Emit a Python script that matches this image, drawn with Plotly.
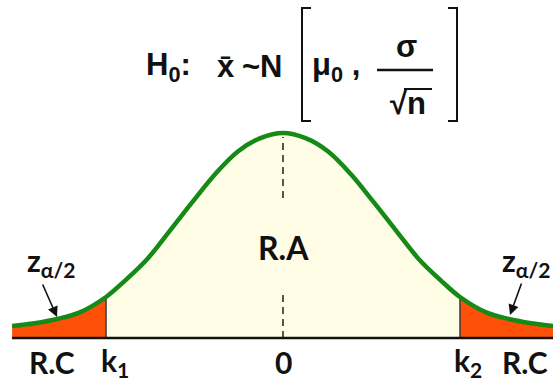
import plotly.graph_objects as go

# ---- data ----
z_half = [-3.0, -2.75, -2.5, -2.25, -1.96, -1.75, -1.5, -1.25, -1.0, -0.75, -0.5, -0.25, 0.0]
h_half = [0.058, 0.072, 0.093, 0.125, 0.20, 0.28, 0.387, 0.525, 0.665, 0.80, 0.91, 0.975, 1.0]
z_vals = z_half + [-v for v in reversed(z_half[:-1])]
h_vals = h_half + list(reversed(h_half[:-1]))
k1, k2 = -1.96, 1.96
bottom_labels = ["R.C", "k<sub>1</sub>", "0", "k<sub>2</sub>", "R.C"]
bottom_label_x = [-2.56, -1.86, 0.0, 2.05, 2.68]

W, H = 553, 385
GREEN = "#168a16"
YELLOW = "#fffde6"
RED = "#ff500a"


def px(x):
    return x / W


def py(y):
    return 1 - y / H


fig = go.Figure()

# acceptance region
za = [z for z in z_vals if k1 <= z <= k2]
ha = [h for z, h in zip(z_vals, h_vals) if k1 <= z <= k2]
fig.add_trace(go.Scatter(x=za, y=ha, mode="lines", line=dict(width=0, shape="spline"),
                         fill="tozeroy", fillcolor=YELLOW, hoverinfo="skip"))
# critical regions
zl = [z for z in z_vals if z <= k1]
hl = [h for z, h in zip(z_vals, h_vals) if z <= k1]
zr = [z for z in z_vals if z >= k2]
hr = [h for z, h in zip(z_vals, h_vals) if z >= k2]
for zz, hh in ((zl, hl), (zr, hr)):
    fig.add_trace(go.Scatter(x=zz, y=hh, mode="lines", line=dict(width=0, shape="spline"),
                             fill="tozeroy", fillcolor=RED, hoverinfo="skip"))

# k lines
hk1 = h_vals[z_vals.index(k1)]
hk2 = h_vals[z_vals.index(k2)]
for kx, hk in ((k1, hk1), (k2, hk2)):
    fig.add_trace(go.Scatter(x=[kx, kx], y=[0, hk], mode="lines",
                             line=dict(color="#3a3a3a", width=1.5), hoverinfo="skip"))

# dashed centre line (with gap for R.A)
peak = max(h_vals)
fig.add_trace(go.Scatter(x=[0, 0], y=[0.683, peak - 0.02], mode="lines",
                         line=dict(color="#555555", width=2, dash="7px,5px"), hoverinfo="skip"))
fig.add_trace(go.Scatter(x=[0, 0], y=[0.0, 0.234], mode="lines",
                         line=dict(color="#555555", width=2, dash="7px,5px"), hoverinfo="skip"))

# baseline
fig.add_trace(go.Scatter(x=[z_vals[0], 3.2], y=[0, 0], mode="lines",
                         line=dict(color="#111111", width=2.5), hoverinfo="skip"))

# curve
fig.add_trace(go.Scatter(x=z_vals, y=h_vals, mode="lines",
                         line=dict(color=GREEN, width=4.5, shape="spline"), hoverinfo="skip"))

LBL = dict(family="Lato, Open Sans, sans-serif", size=30, color="#111111")
ZL = dict(family="Lato, Open Sans, sans-serif", size=30, color="#111111")
TTL = dict(family="Liberation Sans, Arial, sans-serif", size=31, color="#111111")

ann = []
for t, x in zip(bottom_labels, bottom_label_x):
    ann.append(dict(x=x, y=-0.117, xref="x", yref="y", text=f"<b>{t}</b>",
                    showarrow=False, font=LBL, xanchor="center", yanchor="middle"))
ann.append(dict(x=0, y=(338 - 247) / 205, xref="x", yref="y", text="<b>R.A</b>",
                showarrow=False, font=dict(family="Lato, Open Sans, sans-serif", size=32, color="#111"),
                xanchor="center", yanchor="middle"))
# z alpha/2 labels
ann.append(dict(x=px(25), y=py(262), xref="paper", yref="paper", text="<b>z<sub>α/2</sub></b>",
                showarrow=False, font=ZL, xanchor="left", yanchor="middle"))
ann.append(dict(x=px(500), y=py(262), xref="paper", yref="paper", text="<b>z<sub>α/2</sub></b>",
                showarrow=False, font=ZL, xanchor="left", yanchor="middle"))
# arrows
ann.append(dict(x=px(57), y=py(317), xref="paper", yref="paper", ax=42 - 57, ay=283 - 317,
                text="", showarrow=True, arrowhead=2, arrowsize=1.3, arrowwidth=1.6, arrowcolor="#111"))
ann.append(dict(x=px(510), y=py(315), xref="paper", yref="paper", ax=522 - 510, ay=282 - 315,
                text="", showarrow=True, arrowhead=2, arrowsize=1.3, arrowwidth=1.6, arrowcolor="#111"))

# formula
ann.append(dict(x=px(144), y=py(67), xref="paper", yref="paper", text="<b>H<sub>0</sub>:</b>",
                showarrow=False, font=TTL, xanchor="left", yanchor="middle"))
ann.append(dict(x=px(226), y=py(67), xref="paper", yref="paper", text="<b>x̄</b>",
                showarrow=False, font=TTL, xanchor="center", yanchor="middle"))
ann.append(dict(x=px(251), y=py(67), xref="paper", yref="paper", text="<b>~</b>",
                showarrow=False, font=TTL, xanchor="center", yanchor="middle"))
ann.append(dict(x=px(271), y=py(67), xref="paper", yref="paper", text="<b>N</b>",
                showarrow=False, font=TTL, xanchor="center", yanchor="middle"))
ann.append(dict(x=px(310), y=py(67), xref="paper", yref="paper", text="<b>μ<sub>0</sub> ,</b>",
                showarrow=False, font=TTL, xanchor="left", yanchor="middle"))
ann.append(dict(x=px(406), y=py(46), xref="paper", yref="paper", text="<b>σ</b>",
                showarrow=False, font=TTL, xanchor="center", yanchor="middle"))
ann.append(dict(x=px(408), y=py(104), xref="paper", yref="paper", text="<b>√n</b>",
                showarrow=False, font=TTL, xanchor="center", yanchor="middle"))

shapes = []
LINE = dict(color="#111111", width=2)
# fraction bar
shapes.append(dict(type="line", xref="paper", yref="paper", x0=px(377), x1=px(433),
                   y0=py(70), y1=py(70), line=dict(color="#111", width=2.5)))
# radical vinculum
shapes.append(dict(type="line", xref="paper", yref="paper", x0=px(404), x1=px(432),
                   y0=py(89), y1=py(89), line=dict(color="#111", width=2)))
# brackets
shapes.append(dict(type="path", xref="paper", yref="paper",
                   path=f"M {px(311)} {py(8)} L {px(302)} {py(8)} L {px(302)} {py(121)} L {px(311)} {py(121)}",
                   line=LINE))
shapes.append(dict(type="path", xref="paper", yref="paper",
                   path=f"M {px(448)} {py(8)} L {px(457)} {py(8)} L {px(457)} {py(121)} L {px(448)} {py(121)}",
                   line=LINE))

fig.update_layout(
    width=W, height=H, margin=dict(l=0, r=0, t=0, b=0),
    paper_bgcolor="white", plot_bgcolor="white", showlegend=False,
    xaxis=dict(range=[-3.134, 2.99], visible=False, fixedrange=True),
    yaxis=dict(range=[-(H - 338) / 205, 338 / 205], visible=False, fixedrange=True),
    annotations=ann, shapes=shapes,
)
fig.write_html("out.html", config={"displayModeBar": False},
               post_script="document.body.style.margin='0';")
